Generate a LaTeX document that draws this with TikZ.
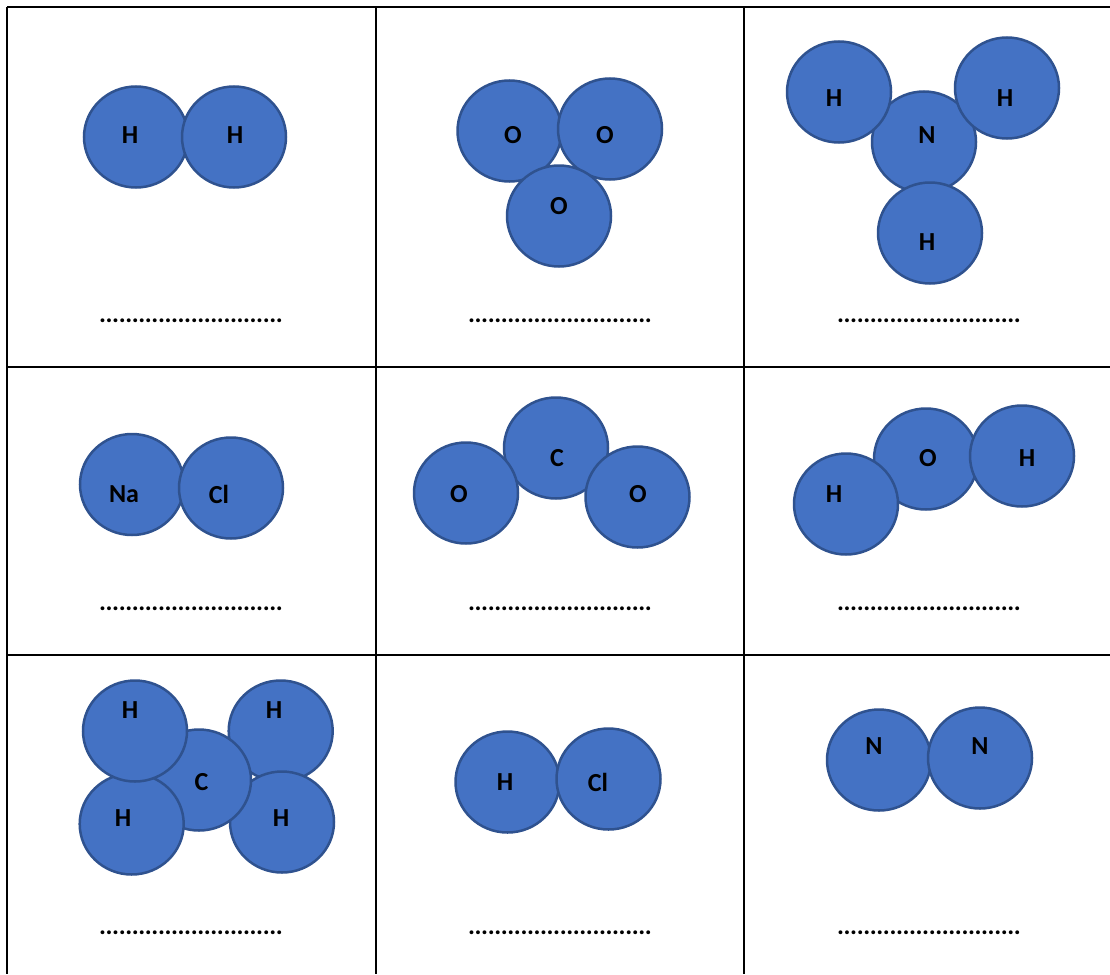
\documentclass[tikz,border=0pt]{standalone}
\usepackage{fontspec}
\setmainfont{Carlito}
\usetikzlibrary{shapes.geometric}
\definecolor{atomfill}{HTML}{4472C4}
\definecolor{atomline}{HTML}{2F528F}
\tikzset{
  atom/.style={ellipse,draw=atomline,fill=atomfill,line width=2.5pt,minimum width=104pt,minimum height=101pt,inner sep=0pt,outer sep=0pt},
  sym/.style={inner sep=0pt,font=\fontsize{26}{26}\selectfont\bfseries,text=black},
  blank/.style={inner sep=0pt,font=\fontsize{26}{26}\selectfont\bfseries,text=black},
  rule/.style={line width=2pt,black}
}
\newcommand{\dotrow}{\hbox to 183.4pt{\leaders\hbox to 6.55pt{\hss.\hss}\hfill}}
\begin{document}
\begin{tikzpicture}[x=1pt,y=-1pt]
\useasboundingbox (0,0) rectangle (1110,974);
\coordinate (gA) at (7,7); \coordinate (gB) at (1110,7);
\coordinate (gC) at (7,367); \coordinate (gD) at (1110,367);
\coordinate (gE) at (7,655); \coordinate (gF) at (1110,655);
\coordinate (gG) at (7,974); \coordinate (gH) at (376,7);
\coordinate (gI) at (376,974); \coordinate (gJ) at (744,7);
\coordinate (gK) at (744,974);
\draw[rule] (gA)--(gB) (gC)--(gD) (gE)--(gF) (gA)--(gG) (gH)--(gI) (gJ)--(gK);
% H2
\node[atom] (a1) at (136,137) {};
\node[atom] (a2) at (234,137) {};
\node[sym] (t1) at (130,135) {H};
\node[sym] (t2) at (235,135) {H};
% O3
\node[atom] (b1) at (509.5,131) {};
\node[atom] (b2) at (610,129) {};
\node[atom] (b3) at (559,216) {};
\node[sym] (u1) at (513,135) {O};
\node[sym] (u2) at (605,135) {O};
\node[sym] (u3) at (559,206) {O};
% NH3
\node[atom] (c1) at (924,142) {};
\node[atom] (c2) at (839,92) {};
\node[atom] (c3) at (1007,88) {};
\node[atom] (c4) at (930,233) {};
\node[sym] (v1) at (927,135) {N};
\node[sym] (v2) at (834,98) {H};
\node[sym] (v3) at (1005,98) {H};
\node[sym] (v4) at (927,242) {H};
% NaCl
\node[atom] (d1) at (132,484.5) {};
\node[atom] (d2) at (231,488) {};
\node[sym] (w1) at (124,494) {Na};
\node[sym] (w2) at (219,494) {Cl};
% CO2
\node[atom] (e1) at (556,448) {};
\node[atom] (e2) at (466,493) {};
\node[atom] (e3) at (637.5,497) {};
\node[sym] (x1) at (557,458) {C};
\node[sym] (x2) at (459,494) {O};
\node[sym] (x3) at (638,494) {O};
% H2O
\node[atom] (f1) at (926,459) {};
\node[atom] (f2) at (846,504) {};
\node[atom] (f3) at (1022,456) {};
\node[sym] (y1) at (928,458) {O};
\node[sym] (y2) at (834,494) {H};
\node[sym] (y3) at (1027,458) {H};
% CH4
\node[atom] (g1) at (280.7,731) {};
\node[atom] (g2) at (282,822) {};
\node[atom] (g3) at (199,780) {};
\node[atom] (g4) at (131.7,824) {};
\node[atom] (g5) at (135,731) {};
\node[sym] (z1) at (274,710) {H};
\node[sym] (z2) at (281,818) {H};
\node[sym] (z3) at (201.5,782) {C};
\node[sym] (z4) at (123,818) {H};
\node[sym] (z5) at (130,710) {H};
% HCl
\node[atom] (h1) at (507.5,782) {};
\node[atom] (h2) at (608.5,779) {};
\node[sym] (p1) at (505,782) {H};
\node[sym] (p2) at (598,782) {Cl};
% N2
\node[atom] (i1) at (879,760) {};
\node[atom] (i2) at (980,758) {};
\node[sym] (q1) at (874,746) {N};
\node[sym] (q2) at (980,746) {N};
% dotted answer rows
\node[blank] (r1) at (191,321) {\dotrow};
\node[blank] (r2) at (560,321) {\dotrow};
\node[blank] (r3) at (929,321) {\dotrow};
\node[blank] (r4) at (191,609) {\dotrow};
\node[blank] (r5) at (560,609) {\dotrow};
\node[blank] (r6) at (929,609) {\dotrow};
\node[blank] (r7) at (191,933) {\dotrow};
\node[blank] (r8) at (560,933) {\dotrow};
\node[blank] (r9) at (929,933) {\dotrow};
\end{tikzpicture}
\end{document}
